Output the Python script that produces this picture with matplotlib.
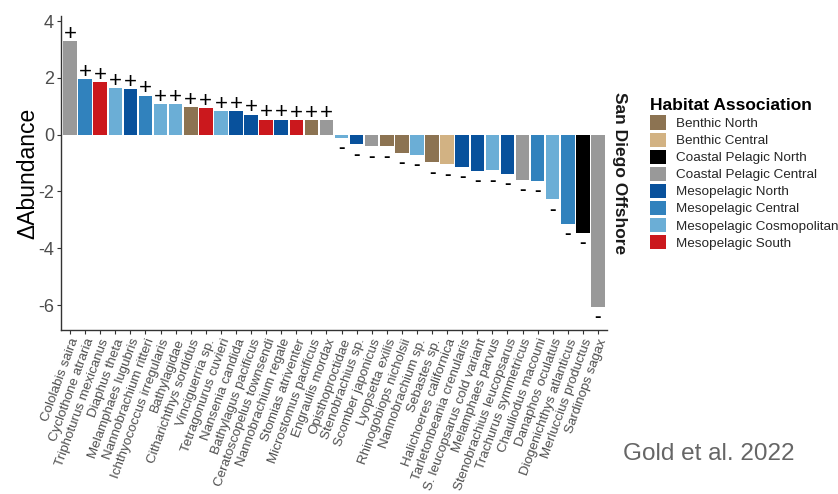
import matplotlib
matplotlib.use('Agg')
import matplotlib.pyplot as plt
from matplotlib.patches import Patch

plt.rcParams['font.family'] = ['Liberation Sans', 'DejaVu Sans']
plt.rcParams['axes.unicode_minus'] = False

species = ['Cololabis saira', 'Cyclothone atraria', 'Triphoturus mexicanus', 'Diaphus theta',
           'Melamphaes lugubris', 'Nannobrachium ritteri', 'Ichthyococcus irregularis', 'Bathylagidae',
           'Citharichthys sordidus', 'Vinciguerria sp.', 'Tetragonurus cuvieri', 'Nansenia candida',
           'Bathylagus pacificus', 'Ceratoscopelus townsendi', 'Nannobrachium regale', 'Stomias atriventer',
           'Microstomus pacificus', 'Engraulis mordax', 'Opisthoproctidae', 'Stenobrachius sp.',
           'Scomber japonicus', 'Lyopsetta exilis', 'Rhinogobiops nicholsii', 'Nannobrachium sp.',
           'Sebastes sp.', 'Halichoeres californica', 'Tarletonbeania crenularis', 'S. leucopsarus cold variant',
           'Melamphaes parvus', 'Stenobrachius leucopsarus', 'Trachurus symmetricus', 'Chauliodus macouni',
           'Danaphos oculatus', 'Diogenichthys atlanticus', 'Merluccius productus', 'Sardinops sagax']

delta = [3.30, 1.95, 1.86, 1.65, 1.61, 1.37, 1.07, 1.07, 0.98, 0.94, 0.83, 0.83, 0.70, 0.53, 0.53,
         0.50, 0.50, 0.50, -0.10, -0.34, -0.41, -0.41, -0.64, -0.70, -0.97, -1.05, -1.13, -1.28,
         -1.26, -1.38, -1.60, -1.63, -2.28, -3.13, -3.45, -6.07]

habitat = ['Coastal Pelagic Central', 'Mesopelagic Central', 'Mesopelagic South', 'Mesopelagic Cosmopolitan',
           'Mesopelagic North', 'Mesopelagic Central', 'Mesopelagic Cosmopolitan', 'Mesopelagic Cosmopolitan',
           'Benthic North', 'Mesopelagic South', 'Mesopelagic Cosmopolitan', 'Mesopelagic North',
           'Mesopelagic North', 'Mesopelagic South', 'Mesopelagic North', 'Mesopelagic South',
           'Benthic North', 'Coastal Pelagic Central', 'Mesopelagic Cosmopolitan', 'Mesopelagic North',
           'Coastal Pelagic Central', 'Benthic North', 'Benthic North', 'Mesopelagic Cosmopolitan',
           'Benthic North', 'Benthic Central', 'Mesopelagic North', 'Mesopelagic North',
           'Mesopelagic Cosmopolitan', 'Mesopelagic North', 'Coastal Pelagic Central', 'Mesopelagic Central',
           'Mesopelagic Cosmopolitan', 'Mesopelagic Central', 'Coastal Pelagic North', 'Coastal Pelagic Central']

habitat_names = ['Benthic North', 'Benthic Central', 'Coastal Pelagic North', 'Coastal Pelagic Central',
                 'Mesopelagic North', 'Mesopelagic Central', 'Mesopelagic Cosmopolitan', 'Mesopelagic South']
habitat_colors = ['#8c7352', '#d2b283', '#000000', '#999999',
                  '#08519c', '#3182bd', '#6baed6', '#cb181d']
color_map = dict(zip(habitat_names, habitat_colors))

W, H = 838, 494
fig = plt.figure(figsize=(W / 100, H / 100), dpi=100)
ax = fig.add_axes([61 / W, 1 - 330 / H, (607 - 61) / W, (330 - 16) / H])

x = list(range(len(species)))
ax.bar(x, delta, width=0.9, color=[color_map[h] for h in habitat], edgecolor='none', zorder=2)

# significance marks
for i, v in enumerate(delta):
    if v > 0:
        ax.text(i, v + 0.24, '+', ha='center', va='center', fontsize=16, color='black')
    else:
        ax.text(i, v - 0.38, '-', ha='center', va='center', fontsize=14, color='black', fontweight='bold')

ax.set_xlim(-0.6, len(species) - 0.4)
ax.set_ylim(-6.88, 4.18)
ax.set_yticks([-6, -4, -2, 0, 2, 4])
ax.set_xticks(x)
ax.set_xticklabels(species, rotation=70, ha='right', va='top', rotation_mode='anchor',
                   fontsize=9.6, color='#4d4d4d')
ax.tick_params(axis='y', labelsize=13, labelcolor='#4d4d4d', length=3, color='#333333', pad=2)
ax.tick_params(axis='x', length=3, color='#333333', pad=2)
for s in ['top', 'right']:
    ax.spines[s].set_visible(False)
for s in ['left', 'bottom']:
    ax.spines[s].set_color('#333333')
    ax.spines[s].set_linewidth(1.0)

ax.set_ylabel('\u0394Abundance', fontsize=16.5, color='black')
ax.yaxis.set_label_coords(-0.04, 0.5)

fig.text(619 / W, 1 - 173 / H, 'San Diego Offshore', rotation=270, ha='center', va='center',
         fontsize=12.5, fontweight='bold', color='#1a1a1a')

handles = [Patch(facecolor=c, edgecolor='none') for c in habitat_colors]
leg = fig.legend(handles, habitat_names, loc='upper left', bbox_to_anchor=(650 / W, 1 - 98 / H),
                 frameon=False, fontsize=9.7, title='Habitat Association',
                 title_fontproperties={'weight': 'bold', 'size': 12.5},
                 handlelength=1.2, handleheight=1.25, handletextpad=0.7, labelspacing=0.18,
                 borderpad=0, borderaxespad=0, alignment='left')
for t in leg.get_texts():
    t.set_color('#262626')

fig.text(623 / W, 1 - 460 / H, 'Gold et al. 2022', ha='left', va='baseline', fontsize=17.5, color='#666666')

fig.savefig('out.png', dpi=100)
